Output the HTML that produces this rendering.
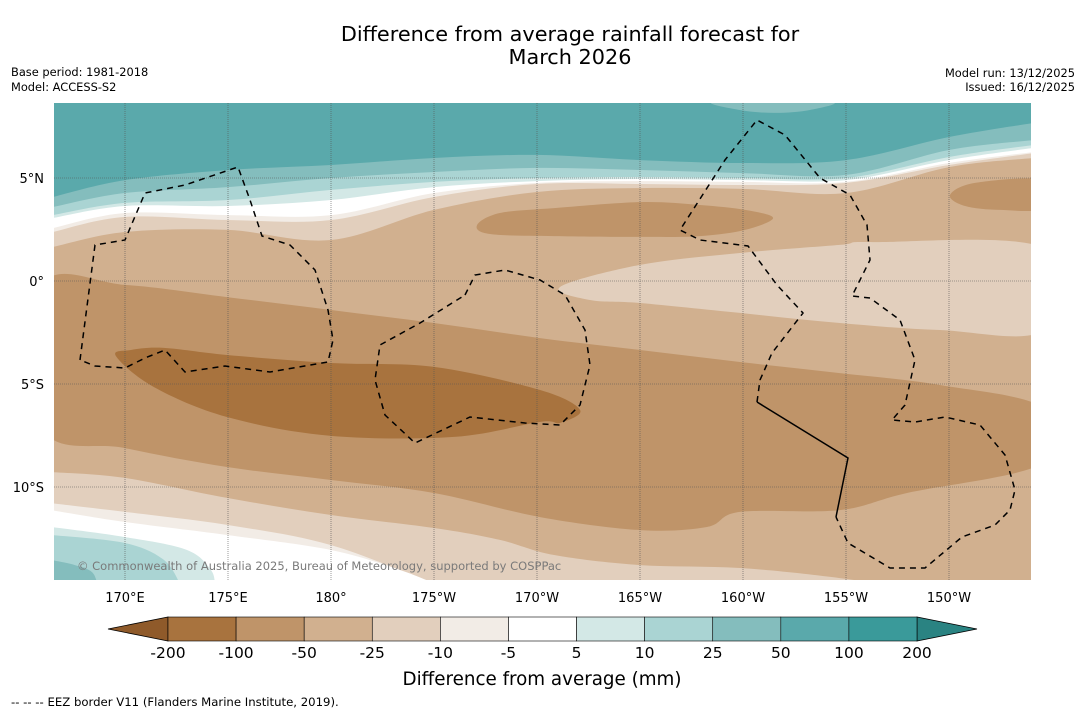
<!DOCTYPE html>
<html><head><meta charset="utf-8"><style>
html,body{margin:0;padding:0;background:#fff;}
body{width:1085px;height:713px;overflow:hidden;font-family:"DejaVu Sans","Liberation Sans",sans-serif;}
svg text{font-family:"DejaVu Sans","Liberation Sans",sans-serif;}
</style></head><body>
<svg id="chart" width="1085" height="713" viewBox="0 0 1085 713" xmlns="http://www.w3.org/2000/svg">
<defs><clipPath id="mapclip"><rect x="54" y="103" width="977" height="477"/></clipPath></defs>
<text x="570" y="41" font-size="20.8" text-anchor="middle" fill="#000">Difference from average rainfall forecast for</text>
<text x="570" y="64" font-size="20.8" text-anchor="middle" fill="#000">March 2026</text>
<text x="11" y="76" font-size="11.4">Base period: 1981-2018</text>
<text x="11" y="91" font-size="11.4">Model: ACCESS-S2</text>
<text x="1075" y="77" font-size="11.4" text-anchor="end">Model run: 13/12/2025</text>
<text x="1075" y="91" font-size="11.4" text-anchor="end">Issued: 16/12/2025</text>
<g id="map" clip-path="url(#mapclip)"></g>
<g id="grid"></g>
<g id="borders" clip-path="url(#mapclip)"></g>
<text x="77" y="570" font-size="11.5" fill="#7a7a7a">© Commonwealth of Australia 2025, Bureau of Meteorology, supported by COSPPac</text>
<g id="axes"></g>
<g id="cbar"></g>
<text x="542" y="685" font-size="18.3" text-anchor="middle">Difference from average (mm)</text>
<text x="11" y="706" font-size="11.7">--  --  -- EEZ border V11 (Flanders Marine Institute, 2019).</text>
</svg>
<script>
// ---- data ----
const lonTicks = [170, 175, 180, 185, 190, 195, 200, 205, 210];
const lonTickLabels = ["170°E","175°E","180°","175°W","170°W","165°W","160°W","155°W","150°W"];
const latTicks = [5, 0, -5, -10];
const latTickLabels = ["5°N","0°","5°S","10°S"];
const levelLabels = ["-200","-100","-50","-25","-10","-5","5","10","25","50","100","200"];
const levelColors = ["#a8733e","#bf9469","#d1b08f","#e2cfbd","#f2ece6","#ffffff","#d3e8e6","#aad4d3","#84bdbd","#5aa9ab","#3a9a9a"];
const lowExtColor = "#8f5a2a", highExtColor = "#2a8382";
const curveLons = [166.5,170,175,180,185,190,195,200,205,210,214.1];
const latM10 = [1.65,2.38,2.48,1.99,3.45,4.32,4.51,4.47,4.27,5.53,5.97];
const latM5 = [2.38,3.11,2.96,2.96,4.08,4.71,4.71,4.66,4.76,5.63,6.21];
const latP5 = [2.57,3.30,3.20,3.20,4.27,4.76,4.85,4.81,4.81,5.73,6.26];
const latP10 = [3.06,3.64,3.64,3.93,4.56,4.85,4.95,4.90,4.90,5.87,6.46];
const latP25 = [3.20,3.79,3.93,4.42,4.81,5.00,5.05,5.00,5.00,6.02,6.60];
const latP50 = [3.59,4.27,4.56,5.00,5.29,5.49,5.39,5.24,5.15,6.36,6.84];
const latP100 = [4.08,4.90,5.39,5.63,5.97,6.12,5.87,5.73,5.87,6.99,7.67];
const bulgeLons = [198.64,199.85,201.55,203.25,204.22];
const bulgeLats = [8.7,8.30,8.16,8.30,8.7];
const blobALons = [187.09,188.20,190.83,195,197.91,200.10,201.46,200.10,197.91,195,190.83,187.72];
const blobALats = [2.72,3.30,3.54,3.83,3.69,3.45,3.06,2.48,2.18,2.14,2.18,2.28];
const blobBLons = [210.05,211.26,214.6,214.6,212.48,210.78];
const blobBLats = [4.17,4.76,4.90,3.54,3.45,3.64];
const tongueLons = [191.12,195,199.85,204.7,206.31,214.6,214.6,209.56,204.7,199.85,195,192.57];
const tongueLats = [-0.29,0.78,1.36,1.75,1.89,1.60,-2.38,-2.38,-2.04,-1.55,-1.07,-0.92];
const bandLons = [166.0,170,174.95,180,185,190.15,195,199.85,204.7,209.56,214.6,214.6,207.96,204.7,199.85,198.25,195,190.15,185,180,174.95,170,166.0];
const bandLats = [-0.19,-0.19,-0.78,-1.41,-2.04,-2.77,-3.35,-3.93,-4.47,-5.05,-6.17,-8.83,-10.29,-11.12,-11.21,-11.94,-12.09,-11.46,-10.29,-9.66,-9.03,-8.11,-7.14];
const coreLons = [169.56,170.29,171.89,174.95,180,185,190.15,192.09,191.12,190.15,185.97,180,174.95,171.41];
const coreLats = [-3.64,-3.35,-3.25,-3.59,-3.98,-4.17,-5.29,-6.26,-6.89,-6.84,-7.57,-7.52,-6.60,-5.15];
const s10Lons = [166.4,170,174.95,180,185,188.2,190.83,195,199.85,204.7,207.62];
const s10Lats = [-9.27,-9.56,-10.53,-11.36,-11.99,-12.57,-13.30,-13.79,-13.93,-14.42,-14.9];
const s5Lons = [166.4,170,174.95,180,185];
const s5Lats = [-10.78,-11.21,-11.84,-12.82,-14.7];
const sWLons = [166.4,170,174.95,180,183.35,185.29];
const sWLats = [-11.12,-11.70,-12.33,-13.06,-14.03,-14.8];
const sP10Lons = [166.4,170,173.01,174.17,174.37];
const sP10Lats = [-11.94,-12.43,-13.06,-14.03,-14.8];
const sP25Lons = [166.4,170,171.89,172.72];
const sP25Lats = [-12.33,-12.72,-13.54,-14.8];
const sP50Lons = [166.4,167.57,168.4,168.69];
const sP50Lats = [-13.54,-13.79,-14.13,-14.8];

// ---- axes ----
const X = lon => 331 + (lon - 180) * 20.6;
const Y = lat => 281 - lat * 20.6;
const NS = "http://www.w3.org/2000/svg";
const LAT_TOP = 9.5, LAT_BOT = -15.5;
function mk(tag, parent){ const e = document.createElementNS(NS, tag); parent.appendChild(e); return e; }
const map = document.getElementById('map');
function pts(lons, lats){ return lons.map((l,i)=>[X(l), Y(lats[i])]); }
function spline(p, closed){
  const n = p.length; let d = '';
  const get = i => closed ? p[(i+n)%n] : p[Math.max(0, Math.min(n-1, i))];
  const segs = closed ? n : n-1;
  for (let i=0;i<segs;i++){
    const p0=get(i-1), p1=get(i), p2=get(i+1), p3=get(i+2);
    const c1=[p1[0]+(p2[0]-p0[0])/6, p1[1]+(p2[1]-p0[1])/6];
    const c2=[p2[0]-(p3[0]-p1[0])/6, p2[1]-(p3[1]-p1[1])/6];
    d += ` C${c1[0].toFixed(1)},${c1[1].toFixed(1)} ${c2[0].toFixed(1)},${c2[1].toFixed(1)} ${p2[0].toFixed(1)},${p2[1].toFixed(1)}`;
  }
  return d;
}
function shape(d, fill, name){
  const e = mk('path', map);
  e.setAttribute('d', d);
  e.setAttribute('fill', fill);
  
  
}
function closedShape(lons, lats, fill, name){
  const p = pts(lons, lats);
  shape(`M${p[0][0].toFixed(1)},${p[0][1].toFixed(1)}` + spline(p, true) + ' Z', fill, name);
}
function openShape(lons, lats, edgeLat, fill, name){
  const p = pts(lons, lats);
  const d = `M${p[0][0].toFixed(1)},${p[0][1].toFixed(1)}` + spline(p, false) +
    ` L${X(lons[lons.length-1]+0.5).toFixed(1)},${p[p.length-1][1].toFixed(1)} L${X(lons[lons.length-1]+0.5).toFixed(1)},${Y(edgeLat)} L${X(lons[0]-0.5).toFixed(1)},${Y(edgeLat)} L${X(lons[0]-0.5).toFixed(1)},${p[0][1].toFixed(1)} Z`;
  shape(d, fill, name);
}
const above = (lons, lats, fill, name) => openShape(lons, lats, LAT_TOP, fill, name);
const below = (lons, lats, fill, name) => openShape(lons, lats, LAT_BOT, fill, name);
const C = levelColors;
const bg = mk('rect', map);
bg.setAttribute('x', 54); bg.setAttribute('y', 103); bg.setAttribute('width', 977); bg.setAttribute('height', 477);
bg.setAttribute('fill', C[2]);


above(curveLons, latM10, C[3], 'band-minus25-minus10-north');
above(curveLons, latM5, C[4], 'band-minus10-minus5-north');
above(curveLons, latP5, C[5], 'band-near-average-north');
above(curveLons, latP10, C[6], 'band-5-10-north');
above(curveLons, latP25, C[7], 'band-10-25-north');
above(curveLons, latP50, C[8], 'band-25-50-north');
above(curveLons, latP100, C[9], 'band-50-100-north');
closedShape(bulgeLons, bulgeLats, C[8], 'band-25-50-bulge');
closedShape(blobALons, blobALats, C[1], 'dry-blob-equatorial');
closedShape(blobBLons, blobBLats, C[1], 'dry-blob-east');
closedShape(tongueLons, tongueLats, C[3], 'band-minus25-minus10-tongue');
closedShape(bandLons, bandLats, C[1], 'band-minus100-minus50');
closedShape(coreLons, coreLats, C[0], 'band-minus200-minus100');
below(s10Lons, s10Lats, C[3], 'band-minus25-minus10-south');
below(s5Lons, s5Lats, C[4], 'band-minus10-minus5-south');
below(sWLons, sWLats, C[5], 'band-near-average-south');
below(sP10Lons, sP10Lats, C[6], 'band-5-10-south');
below(sP25Lons, sP25Lats, C[7], 'band-10-25-south');
below(sP50Lons, sP50Lats, C[8], 'band-25-50-south');

// graticule
const grid = document.getElementById('grid');
const axes = document.getElementById('axes');
lonTicks.forEach((lon,i)=>{
  const l = mk('line', grid);
  l.setAttribute('x1', X(lon)); l.setAttribute('x2', X(lon)); l.setAttribute('y1', 103); l.setAttribute('y2', 580);
  l.setAttribute('stroke', '#555'); l.setAttribute('stroke-width', '0.6'); l.setAttribute('stroke-dasharray', '1,1');
  
  
  const t = mk('text', axes);
  t.setAttribute('x', X(lon)); t.setAttribute('y', 602); t.setAttribute('font-size', '13'); t.setAttribute('text-anchor', 'middle');
  t.textContent = lonTickLabels[i];
  
  
});
latTicks.forEach((lat,i)=>{
  const l = mk('line', grid);
  l.setAttribute('x1', 54); l.setAttribute('x2', 1031); l.setAttribute('y1', Y(lat)); l.setAttribute('y2', Y(lat));
  l.setAttribute('stroke', '#555'); l.setAttribute('stroke-width', '0.6'); l.setAttribute('stroke-dasharray', '1,1');
  
  
  const t = mk('text', axes);
  t.setAttribute('x', 44); t.setAttribute('y', Y(lat)+5); t.setAttribute('font-size', '13'); t.setAttribute('text-anchor', 'end');
  t.textContent = latTickLabels[i];
  
  
});

// EEZ borders (decorative map geometry)
const borders = document.getElementById('borders');
const eezPaths = [
  "M80,360 L95,245 L125,240 L145,193 L185,185 L238,167 L250,200 L262,236 L290,245 L315,270 L328,310 L333,340 L328,362 L270,372 L225,366 L185,372 L165,350 L145,358 L125,368 L95,366 Z",
  "M465,295 L475,275 L505,270 L540,280 L565,295 L585,330 L590,365 L580,405 L560,425 L525,423 L470,417 L415,443 L385,415 L375,380 L380,345 L420,323 Z",
  "M757,402 L760,380 L772,353 L803,313 L777,285 L748,246 L700,240 L680,230 L725,160 L757,120 L785,135 L820,178 L850,195 L867,225 L870,260 L852,296 L870,298 L900,320 L915,360 L905,405 L892,420 L915,422 L945,417 L980,425 L1005,455 L1015,490 L1010,510 L995,525 L962,537 L925,568 L890,568 L848,543 L836,517",
];
eezPaths.forEach(d=>{
  const p = mk('path', borders);
  p.setAttribute('d', d); p.setAttribute('fill', 'none'); p.setAttribute('stroke', '#000');
  p.setAttribute('stroke-width', '1.5'); p.setAttribute('stroke-dasharray', '6,5');
  
  
});
const solid = mk('path', borders);
solid.setAttribute('d', 'M757,402 L848,458 L836,517'); solid.setAttribute('fill', 'none');
solid.setAttribute('stroke', '#000'); solid.setAttribute('stroke-width', '1.5');



// colorbar
const cbar = document.getElementById('cbar');
const cbX0 = 168, cbX1 = 917, cbY = 617, cbH = 24;
const cw = (cbX1 - cbX0) / levelColors.length;
const lt = mk('polygon', cbar);
lt.setAttribute('points', `${cbX0},${cbY} ${cbX0},${cbY+cbH} 108,${cbY+cbH/2}`);
lt.setAttribute('fill', lowExtColor); lt.setAttribute('stroke', '#000'); lt.setAttribute('stroke-width', '0.8');


const rt = mk('polygon', cbar);
rt.setAttribute('points', `${cbX1},${cbY} ${cbX1},${cbY+cbH} 977,${cbY+cbH/2}`);
rt.setAttribute('fill', highExtColor); rt.setAttribute('stroke', '#000'); rt.setAttribute('stroke-width', '0.8');


levelColors.forEach((c,i)=>{
  const r = mk('rect', cbar);
  r.setAttribute('x', cbX0 + i*cw); r.setAttribute('y', cbY); r.setAttribute('width', cw); r.setAttribute('height', cbH);
  r.setAttribute('fill', c); r.setAttribute('stroke', '#000'); r.setAttribute('stroke-width', '0.6');
  
  
});
levelLabels.forEach((s,i)=>{
  const t = mk('text', cbar);
  t.setAttribute('x', cbX0 + i*cw); t.setAttribute('y', 658); t.setAttribute('font-size', '15.5'); t.setAttribute('text-anchor', 'middle');
  t.textContent = s;
  
  
});
</script>
</body></html>
